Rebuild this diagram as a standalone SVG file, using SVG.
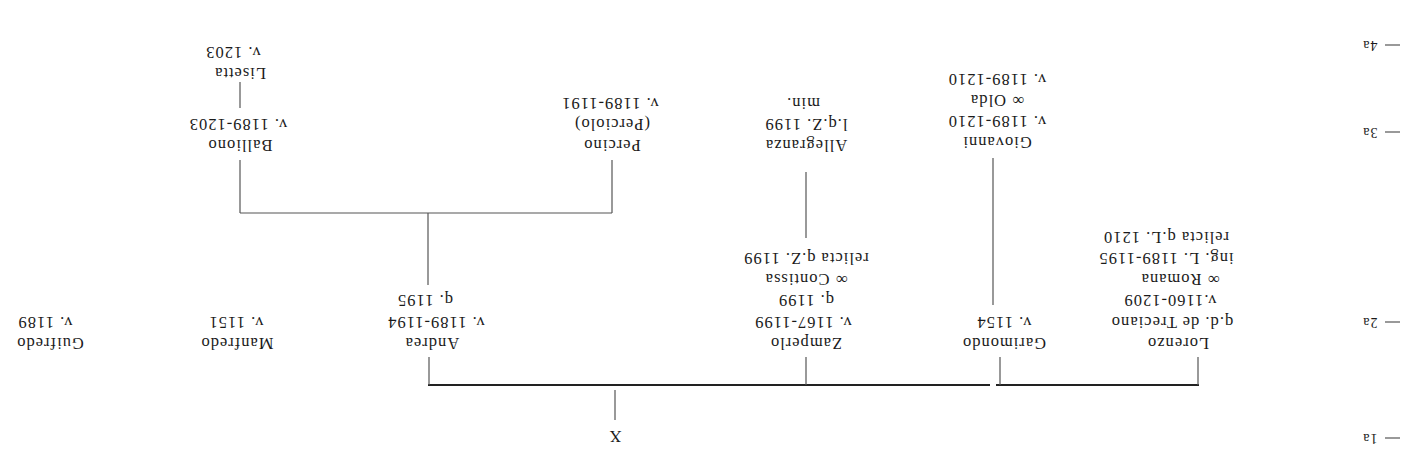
<svg xmlns="http://www.w3.org/2000/svg" width="1415" height="473" viewBox="0 0 1415 473">
<style>
text{font-family:"Liberation Serif","Times New Roman",serif;font-size:16.5px;fill:#1a1a1a;text-anchor:middle;dominant-baseline:central;letter-spacing:1px}
.ln{stroke:#555;stroke-width:1.2;fill:none}
.bar{stroke:#222;stroke-width:1.8;fill:none}
.lab{font-size:14px}
</style>
<rect width="1415" height="473" fill="#fff"/>
<g id="connectors">
<line class="ln" x1="615" y1="390" x2="615" y2="420"/>
<line class="bar" x1="428" y1="385" x2="990" y2="385"/>
<line class="bar" x1="996" y1="385" x2="1199" y2="385"/>
<line class="ln" x1="429" y1="357" x2="429" y2="385"/>
<line class="ln" x1="806" y1="357" x2="806" y2="385"/>
<line class="ln" x1="1000" y1="357" x2="1000" y2="385"/>
<line class="ln" x1="1198" y1="357" x2="1198" y2="385"/>
<line class="ln" x1="428" y1="213" x2="428" y2="285"/>
<line class="ln" x1="240" y1="213" x2="612" y2="213"/>
<line class="ln" x1="240" y1="160" x2="240" y2="213"/>
<line class="ln" x1="612" y1="160" x2="612" y2="213"/>
<line class="ln" x1="240" y1="82" x2="240" y2="108"/>
<line class="ln" x1="806" y1="172" x2="806" y2="238"/>
<line class="ln" x1="993" y1="158" x2="993" y2="305"/>
</g>
<g id="axis">
<line class="ln" x1="1385" y1="438" x2="1400" y2="438"/>
<text class="lab" x="1370" y="438" transform="rotate(180 1370 438)">1a</text>
<line class="ln" x1="1385" y1="322" x2="1400" y2="322"/>
<text class="lab" x="1370" y="322" transform="rotate(180 1370 322)">2a</text>
<line class="ln" x1="1385" y1="132" x2="1400" y2="132"/>
<text class="lab" x="1370" y="132" transform="rotate(180 1370 132)">3a</text>
<line class="ln" x1="1385" y1="45" x2="1400" y2="45"/>
<text class="lab" x="1370" y="45" transform="rotate(180 1370 45)">4a</text>
</g>
<g id="node-x"><text x="615" y="436" transform="rotate(180 615 436)">X</text></g>
<g id="node-guifredo">
<text x="50" y="343" transform="rotate(180 50 343)">Guifredo</text>
<text x="45" y="322" transform="rotate(180 45 322)">v.  1189</text>
</g>
<g id="node-manfredo">
<text x="237" y="343" transform="rotate(180 237 343)">Manfredo</text>
<text x="236" y="322" transform="rotate(180 236 322)">v.  1151</text>
</g>
<g id="node-andrea">
<text x="432" y="343" transform="rotate(180 432 343)">Andrea</text>
<text x="436" y="322" transform="rotate(180 436 322)">v.  1189-1194</text>
<text x="425" y="300" transform="rotate(180 425 300)">q.  1195</text>
</g>
<g id="node-zamperlo">
<text x="806" y="343" transform="rotate(180 806 343)">Zamperlo</text>
<text x="803" y="322" transform="rotate(180 803 322)">v.  1167-1199</text>
<text x="806" y="300" transform="rotate(180 806 300)">q.  1199</text>
<text x="806" y="279" transform="rotate(180 806 279)">∞  Contissa</text>
<text x="806" y="258" transform="rotate(180 806 258)">relicta  q.Z.  1199</text>
</g>
<g id="node-garimondo">
<text x="1004" y="343" transform="rotate(180 1004 343)">Garimondo</text>
<text x="1004" y="322" transform="rotate(180 1004 322)">v.  1154</text>
</g>
<g id="node-lorenzo">
<text x="1178" y="343" transform="rotate(180 1178 343)">Lorenzo</text>
<text x="1172" y="322" transform="rotate(180 1172 322)">q.d.  de  Treciano</text>
<text x="1170" y="300" transform="rotate(180 1170 300)">v.1160-1209</text>
<text x="1180" y="279" transform="rotate(180 1180 279)">∞  Romana</text>
<text x="1166" y="258" transform="rotate(180 1166 258)">ing.  L.  1189-1195</text>
<text x="1166" y="237" transform="rotate(180 1166 237)">relicta  q.L.  1210</text>
</g>
<g id="node-giovanni">
<text x="997" y="142" transform="rotate(180 997 142)">Giovanni</text>
<text x="997" y="121" transform="rotate(180 997 121)">v.  1189-1210</text>
<text x="997" y="100" transform="rotate(180 997 100)">∞  Olda</text>
<text x="997" y="79" transform="rotate(180 997 79)">v.  1189-1210</text>
</g>
<g id="node-allegranza">
<text x="806" y="145" transform="rotate(180 806 145)">Allegranza</text>
<text x="806" y="124" transform="rotate(180 806 124)">l.q.Z.  1199</text>
<text x="803" y="103" transform="rotate(180 803 103)">min.</text>
</g>
<g id="node-percino">
<text x="612" y="145" transform="rotate(180 612 145)">Percino</text>
<text x="612" y="124" transform="rotate(180 612 124)">(Perciolo)</text>
<text x="610" y="103" transform="rotate(180 610 103)">v.  1189-1191</text>
</g>
<g id="node-balliono">
<text x="240" y="145" transform="rotate(180 240 145)">Balliono</text>
<text x="238" y="124" transform="rotate(180 238 124)">v.  1189-1203</text>
</g>
<g id="node-lisetta">
<text x="240" y="73" transform="rotate(180 240 73)">Lisetta</text>
<text x="233" y="52" transform="rotate(180 233 52)">v.  1203</text>
</g>
</svg>
